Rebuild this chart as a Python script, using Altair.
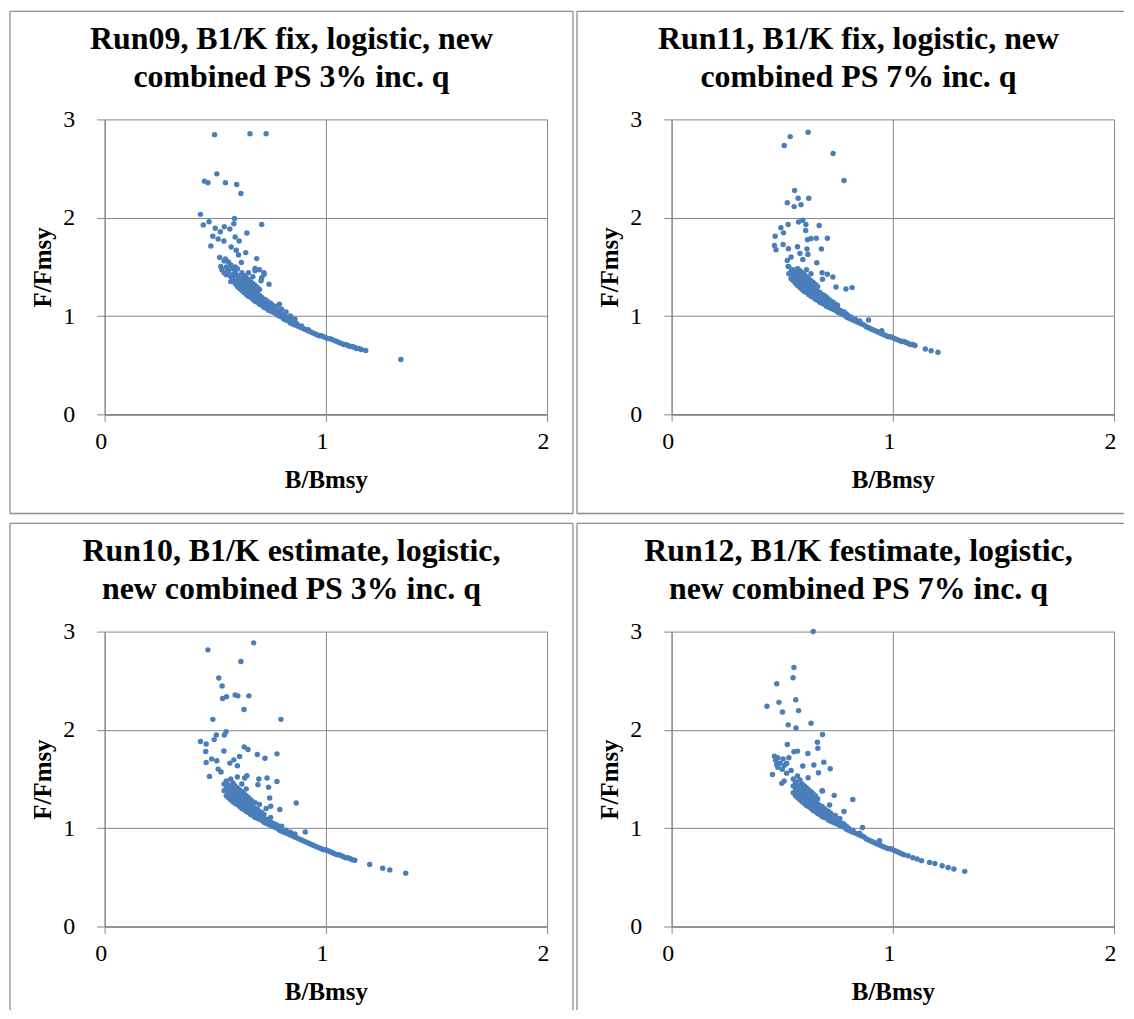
import altair as alt
import pandas as pd

FONT = "Liberation Serif"
BLUE = "#4a7ebb"
GRID = "#868686"
FRAME = "#8c8c8c"

X_TICKS = [0, 1, 2]
Y_TICKS = [0, 1, 2, 3]
X_TITLE = "B/Bmsy"
Y_TITLE = "F/Fmsy"

TITLES = {
    "run09": "Run09, B1/K fix, logistic, new\ncombined PS 3% inc. q",
    "run11": "Run11, B1/K fix, logistic, new\ncombined PS 7% inc. q",
    "run10": "Run10, B1/K estimate, logistic,\nnew combined PS 3% inc. q",
    "run12": "Run12, B1/K festimate, logistic,\nnew combined PS 7% inc. q",
}

# (B/Bmsy, F/Fmsy) pairs
run09_points = [
    (0.497, 2.845), (0.657, 2.855), (0.730, 2.855), (0.507, 2.446), (0.451, 2.372),
    (0.467, 2.355), (0.546, 2.355), (0.597, 2.338), (0.616, 2.247), (0.433, 2.034),
    (0.446, 1.926), (0.472, 1.959), (0.500, 1.892), (0.541, 1.909), (0.587, 1.993),
    (0.584, 1.939), (0.710, 1.932), (0.643, 1.845), (0.523, 1.858), (0.566, 1.885),
    (0.489, 1.811), (0.513, 1.784), (0.539, 1.764), (0.480, 1.713), (0.572, 1.703),
    (0.590, 1.804), (0.608, 1.764), (0.595, 1.669), (0.605, 1.622), (0.638, 1.645),
    (0.520, 1.595), (0.546, 1.581), (0.687, 1.584), (0.618, 1.544), (0.525, 1.503),
    (0.557, 1.476), (0.582, 1.493), (0.680, 1.483), (0.721, 1.426), (0.743, 1.324),
    (0.707, 1.358),
    (0.53, 1.47), (0.54, 1.44), (0.55, 1.42), (0.55, 1.50), (0.56, 1.55), (0.57, 1.52),
    (0.58, 1.48), (0.54, 1.56), (0.59, 1.50), (0.60, 1.48),
    (0.56, 1.45), (0.57, 1.40), (0.57, 1.35), (0.58, 1.42), (0.58, 1.38), (0.59, 1.33),
    (0.59, 1.44), (0.60, 1.30), (0.60, 1.36), (0.60, 1.41), (0.61, 1.28), (0.61, 1.34),
    (0.61, 1.39), (0.62, 1.26), (0.62, 1.31), (0.62, 1.37), (0.62, 1.44), (0.63, 1.24),
    (0.63, 1.29), (0.63, 1.35), (0.63, 1.41), (0.64, 1.22), (0.64, 1.27), (0.64, 1.33),
    (0.64, 1.39), (0.65, 1.20), (0.65, 1.25), (0.65, 1.31), (0.65, 1.37), (0.65, 1.44),
    (0.66, 1.19), (0.66, 1.23), (0.66, 1.29), (0.66, 1.35), (0.67, 1.17), (0.67, 1.22),
    (0.67, 1.27), (0.67, 1.33), (0.67, 1.40), (0.68, 1.15), (0.68, 1.20), (0.68, 1.25),
    (0.68, 1.31), (0.68, 1.46), (0.69, 1.14), (0.69, 1.18), (0.69, 1.23), (0.69, 1.29),
    (0.70, 1.12), (0.70, 1.16), (0.70, 1.21), (0.70, 1.27), (0.70, 1.47), (0.71, 1.11),
    (0.71, 1.15), (0.71, 1.19), (0.71, 1.39), (0.72, 1.09), (0.72, 1.13), (0.72, 1.17),
    (0.72, 1.44), (0.73, 1.08), (0.73, 1.12), (0.73, 1.16), (0.74, 1.06), (0.74, 1.10),
    (0.74, 1.14), (0.75, 1.05), (0.75, 1.09), (0.75, 1.13), (0.76, 1.04), (0.76, 1.07),
    (0.76, 1.11), (0.77, 1.03), (0.77, 1.06), (0.78, 1.01), (0.78, 1.05), (0.78, 1.10),
    (0.79, 1.00), (0.79, 1.03), (0.79, 1.12), (0.80, 0.99), (0.80, 1.02), (0.80, 1.07),
    (0.81, 0.97), (0.81, 1.00), (0.82, 0.96), (0.82, 0.99), (0.82, 1.04), (0.83, 0.95),
    (0.83, 0.97), (0.84, 0.93), (0.84, 0.96), (0.84, 1.00), (0.85, 0.92), (0.85, 0.95),
    (0.86, 0.91), (0.86, 0.94), (0.86, 0.97), (0.87, 0.90), (0.87, 0.92), (0.88, 0.89),
    (0.89, 0.88), (0.89, 0.90), (0.90, 0.87), (0.91, 0.86), (0.92, 0.85), (0.92, 0.86),
    (0.93, 0.84), (0.94, 0.83), (0.95, 0.82), (0.96, 0.81), (0.97, 0.80), (0.98, 0.80),
    (0.99, 0.79), (1.00, 0.78), (1.01, 0.77), (1.02, 0.77), (1.03, 0.76), (1.04, 0.75),
    (1.05, 0.74), (1.06, 0.73), (1.07, 0.72), (1.08, 0.71), (1.09, 0.71), (1.10, 0.70),
    (1.11, 0.69), (1.12, 0.69), (1.13, 0.68), (1.14, 0.67), (1.15, 0.67), (1.16, 0.66),
    (1.18, 0.65), (1.339, 0.557),
]

run11_points = [
    (0.617, 2.869), (0.536, 2.825), (0.509, 2.734), (0.730, 2.653), (0.779, 2.379),
    (0.556, 2.278), (0.523, 2.153), (0.572, 2.197), (0.620, 2.197), (0.554, 2.113),
    (0.585, 2.133), (0.574, 1.957), (0.593, 1.974), (0.527, 1.930), (0.607, 1.930),
    (0.667, 1.920), (0.494, 1.897), (0.506, 1.846), (0.606, 1.870), (0.468, 1.812),
    (0.465, 1.718), (0.472, 1.674), (0.504, 1.728), (0.528, 1.684), (0.569, 1.704),
    (0.614, 1.775), (0.630, 1.789), (0.654, 1.792), (0.704, 1.792), (0.677, 1.681),
    (0.580, 1.637), (0.612, 1.681), (0.616, 1.627), (0.593, 1.576), (0.540, 1.600),
    (0.523, 1.566), (0.527, 1.505), (0.656, 1.542), (0.729, 1.397), (0.704, 1.424),
    (0.680, 1.441), (0.743, 1.296), (0.788, 1.276), (0.816, 1.289), (0.682, 1.374),
    (0.53, 1.43), (0.53, 1.50), (0.54, 1.38), (0.54, 1.45), (0.55, 1.36), (0.55, 1.41),
    (0.55, 1.47), (0.56, 1.33), (0.56, 1.39), (0.56, 1.44), (0.57, 1.31), (0.57, 1.37),
    (0.57, 1.42), (0.57, 1.48), (0.58, 1.29), (0.58, 1.34), (0.58, 1.40), (0.58, 1.46),
    (0.59, 1.27), (0.59, 1.32), (0.59, 1.38), (0.59, 1.44), (0.60, 1.25), (0.60, 1.30),
    (0.60, 1.36), (0.60, 1.42), (0.61, 1.24), (0.61, 1.28), (0.61, 1.34), (0.61, 1.40),
    (0.61, 1.47), (0.62, 1.22), (0.62, 1.27), (0.62, 1.32), (0.62, 1.38), (0.63, 1.20),
    (0.63, 1.25), (0.63, 1.30), (0.63, 1.36), (0.63, 1.43), (0.64, 1.19), (0.64, 1.24),
    (0.64, 1.29), (0.64, 1.34), (0.65, 1.17), (0.65, 1.22), (0.65, 1.27), (0.65, 1.32),
    (0.66, 1.16), (0.66, 1.20), (0.66, 1.25), (0.66, 1.30), (0.67, 1.14), (0.67, 1.19),
    (0.67, 1.24), (0.68, 1.13), (0.68, 1.17), (0.68, 1.22), (0.69, 1.12), (0.69, 1.16),
    (0.69, 1.21), (0.70, 1.10), (0.70, 1.14), (0.70, 1.19), (0.71, 1.09), (0.71, 1.13),
    (0.71, 1.17), (0.72, 1.08), (0.72, 1.12), (0.72, 1.15), (0.73, 1.07), (0.73, 1.10),
    (0.73, 1.14), (0.74, 1.06), (0.74, 1.09), (0.74, 1.12), (0.75, 1.04), (0.75, 1.08),
    (0.75, 1.11), (0.76, 1.03), (0.76, 1.06), (0.77, 1.02), (0.77, 1.05), (0.78, 1.01),
    (0.78, 1.04), (0.79, 0.99), (0.79, 1.02), (0.80, 0.98), (0.80, 1.00), (0.81, 0.97),
    (0.81, 0.99), (0.82, 0.96), (0.83, 0.95), (0.83, 0.97), (0.84, 0.94), (0.85, 0.93),
    (0.85, 0.95), (0.86, 0.92), (0.87, 0.91), (0.88, 0.89), (0.89, 0.88), (0.89, 0.96),
    (0.90, 0.87), (0.91, 0.86), (0.92, 0.85), (0.93, 0.84), (0.94, 0.83), (0.95, 0.85),
    (0.95, 0.82), (0.96, 0.81), (0.97, 0.80), (0.98, 0.79), (0.99, 0.79), (1.00, 0.78),
    (1.01, 0.77), (1.02, 0.76), (1.03, 0.75), (1.04, 0.74), (1.05, 0.74), (1.06, 0.73),
    (1.07, 0.72), (1.08, 0.71), (1.09, 0.71), (1.10, 0.70), (1.147, 0.665),
    (1.173, 0.648), (1.204, 0.631),
]

run10_points = [
    (0.674, 2.885), (0.467, 2.814), (0.616, 2.696), (0.516, 2.528), (0.531, 2.447),
    (0.533, 2.319), (0.551, 2.336), (0.590, 2.356), (0.602, 2.346), (0.652, 2.346),
    (0.630, 2.208), (0.489, 2.107), (0.797, 2.107), (0.549, 1.982), (0.541, 1.948),
    (0.505, 1.948), (0.495, 1.901), (0.433, 1.881), (0.459, 1.857), (0.457, 1.780),
    (0.459, 1.668), (0.474, 1.527), (0.484, 1.705), (0.507, 1.685), (0.539, 1.786),
    (0.610, 1.729), (0.631, 1.827), (0.648, 1.800), (0.690, 1.749), (0.725, 1.712),
    (0.779, 1.756), (0.584, 1.695), (0.600, 1.635), (0.566, 1.662), (0.513, 1.601),
    (0.526, 1.571), (0.643, 1.534), (0.633, 1.510), (0.697, 1.500), (0.734, 1.510),
    (0.779, 1.476), (0.693, 1.443), (0.741, 1.416), (0.746, 1.308), (0.751, 1.223),
    (0.792, 1.190), (0.866, 1.257), (0.907, 0.961),
    (0.54, 1.38), (0.54, 1.45), (0.55, 1.33), (0.55, 1.41), (0.55, 1.48), (0.56, 1.31),
    (0.56, 1.37), (0.56, 1.44), (0.57, 1.29), (0.57, 1.35), (0.57, 1.42), (0.57, 1.50),
    (0.58, 1.27), (0.58, 1.33), (0.58, 1.39), (0.58, 1.46), (0.59, 1.25), (0.59, 1.31),
    (0.59, 1.37), (0.59, 1.43), (0.60, 1.24), (0.60, 1.29), (0.60, 1.35), (0.60, 1.41),
    (0.60, 1.52), (0.61, 1.22), (0.61, 1.27), (0.61, 1.33), (0.61, 1.39), (0.62, 1.20),
    (0.62, 1.25), (0.62, 1.31), (0.62, 1.37), (0.62, 1.45), (0.63, 1.19), (0.63, 1.24),
    (0.63, 1.29), (0.63, 1.35), (0.64, 1.17), (0.64, 1.22), (0.64, 1.27), (0.64, 1.33),
    (0.64, 1.40), (0.65, 1.16), (0.65, 1.20), (0.65, 1.25), (0.65, 1.31), (0.66, 1.14),
    (0.66, 1.19), (0.66, 1.24), (0.66, 1.29), (0.67, 1.13), (0.67, 1.17), (0.67, 1.22),
    (0.67, 1.27), (0.68, 1.11), (0.68, 1.16), (0.68, 1.20), (0.68, 1.26), (0.69, 1.10),
    (0.69, 1.14), (0.69, 1.19), (0.70, 1.09), (0.70, 1.13), (0.70, 1.17), (0.70, 1.24),
    (0.71, 1.08), (0.71, 1.12), (0.71, 1.16), (0.72, 1.06), (0.72, 1.10), (0.72, 1.14),
    (0.73, 1.05), (0.73, 1.09), (0.73, 1.20), (0.74, 1.04), (0.74, 1.08), (0.75, 1.03),
    (0.75, 1.06), (0.75, 1.11), (0.76, 1.02), (0.76, 1.05), (0.77, 1.01), (0.77, 1.04),
    (0.78, 1.00), (0.78, 1.03), (0.79, 0.98), (0.79, 1.01), (0.80, 0.97), (0.80, 1.02),
    (0.81, 0.96), (0.82, 0.95), (0.82, 0.98), (0.83, 0.94), (0.84, 0.93), (0.84, 0.96),
    (0.85, 0.92), (0.86, 0.91), (0.86, 0.94), (0.87, 0.90), (0.88, 0.89), (0.89, 0.88),
    (0.90, 0.87), (0.91, 0.86), (0.92, 0.85), (0.93, 0.84), (0.94, 0.83), (0.95, 0.82),
    (0.96, 0.81), (0.97, 0.80), (0.98, 0.79), (0.99, 0.78), (1.00, 0.78), (1.01, 0.77),
    (1.02, 0.76), (1.03, 0.75), (1.04, 0.74), (1.05, 0.73), (1.06, 0.73), (1.07, 0.72),
    (1.08, 0.71), (1.09, 0.70), (1.10, 0.70), (1.11, 0.69), (1.12, 0.68), (1.131, 0.674),
    (1.198, 0.630), (1.257, 0.593), (1.289, 0.576), (1.361, 0.543),
]

run12_points = [
    (0.640, 3.000), (0.553, 2.635), (0.549, 2.530), (0.475, 2.470), (0.561, 2.307),
    (0.485, 2.280), (0.431, 2.240), (0.501, 2.182), (0.574, 2.196), (0.630, 2.068),
    (0.527, 2.051), (0.562, 2.020), (0.682, 1.953), (0.659, 1.875), (0.661, 1.814),
    (0.523, 1.851), (0.553, 1.777), (0.569, 1.784), (0.616, 1.760), (0.465, 1.733),
    (0.480, 1.716), (0.504, 1.703), (0.530, 1.716), (0.475, 1.649), (0.520, 1.659),
    (0.688, 1.672), (0.643, 1.642), (0.593, 1.632), (0.540, 1.588), (0.717, 1.605),
    (0.456, 1.547), (0.569, 1.530), (0.664, 1.564), (0.498, 1.456), (0.509, 1.480),
    (0.617, 1.514), (0.607, 1.412), (0.682, 1.378), (0.735, 1.334), (0.819, 1.291),
    (0.779, 1.169), (0.714, 1.236), (0.863, 1.007), (0.940, 0.872),
    (0.47, 1.69), (0.48, 1.62), (0.49, 1.66), (0.50, 1.60), (0.51, 1.64), (0.52, 1.56),
    (0.55, 1.36), (0.55, 1.43), (0.55, 1.50), (0.56, 1.33), (0.56, 1.40), (0.56, 1.47),
    (0.57, 1.31), (0.57, 1.37), (0.57, 1.44), (0.58, 1.29), (0.58, 1.35), (0.58, 1.41),
    (0.58, 1.49), (0.59, 1.27), (0.59, 1.33), (0.59, 1.39), (0.59, 1.45), (0.60, 1.25),
    (0.60, 1.31), (0.60, 1.37), (0.60, 1.43), (0.61, 1.23), (0.61, 1.29), (0.61, 1.35),
    (0.61, 1.41), (0.62, 1.22), (0.62, 1.27), (0.62, 1.33), (0.62, 1.39), (0.63, 1.20),
    (0.63, 1.25), (0.63, 1.31), (0.63, 1.37), (0.64, 1.18), (0.64, 1.23), (0.64, 1.29),
    (0.64, 1.35), (0.65, 1.17), (0.65, 1.22), (0.65, 1.27), (0.65, 1.33), (0.66, 1.15),
    (0.66, 1.20), (0.66, 1.25), (0.66, 1.30), (0.67, 1.14), (0.67, 1.18), (0.67, 1.23),
    (0.68, 1.12), (0.68, 1.17), (0.68, 1.22), (0.68, 1.38), (0.69, 1.11), (0.69, 1.15),
    (0.69, 1.20), (0.70, 1.10), (0.70, 1.14), (0.70, 1.18), (0.71, 1.08), (0.71, 1.12),
    (0.71, 1.17), (0.72, 1.07), (0.72, 1.11), (0.72, 1.15), (0.73, 1.06), (0.73, 1.10),
    (0.74, 1.05), (0.74, 1.08), (0.74, 1.13), (0.75, 1.04), (0.75, 1.07), (0.76, 1.03),
    (0.76, 1.06), (0.76, 1.10), (0.77, 1.02), (0.77, 1.05), (0.78, 1.01), (0.78, 1.04),
    (0.79, 0.99), (0.79, 1.02), (0.80, 0.98), (0.80, 1.00), (0.81, 0.97), (0.82, 0.96),
    (0.82, 0.98), (0.83, 0.95), (0.84, 0.94), (0.85, 0.93), (0.85, 0.95), (0.86, 0.92),
    (0.87, 0.91), (0.88, 0.89), (0.89, 0.88), (0.90, 0.87), (0.91, 0.86), (0.92, 0.85),
    (0.93, 0.84), (0.94, 0.83), (0.95, 0.82), (0.96, 0.81), (0.97, 0.80), (0.98, 0.79),
    (0.99, 0.79), (1.00, 0.78), (1.01, 0.77), (1.02, 0.76), (1.03, 0.75), (1.04, 0.74),
    (1.05, 0.73), (1.069, 0.720), (1.09, 0.70), (1.110, 0.686), (1.13, 0.67),
    (1.166, 0.652), (1.19, 0.64), (1.223, 0.618), (1.25, 0.60), (1.276, 0.584),
    (1.325, 0.561),
]


def frame_rules(right_col, bottom_row):
    """Panel frame lines (decoration, in pixels relative to the plot area)."""
    one = pd.DataFrame({"k": [0]})
    left, top = -95, -108.5
    right = 454 if right_col else 470
    bottom = 380 if bottom_row else 395.5
    segs = [(left, right, top, top), (left, left, top, bottom)]
    if not bottom_row:
        segs.append((left, right, bottom, bottom))
    if not right_col:
        segs.append((right, right, top, bottom))
    layers = []
    for x1, x2, y1, y2 in segs:
        layers.append(
            alt.Chart(one).mark_rule(color=FRAME, strokeWidth=1.3).encode(
                x=alt.value(x1), x2=alt.value(x2), y=alt.value(y1), y2=alt.value(y2)
            )
        )
    return layers


def panel(points, title_text, right_col, bottom_row):
    df = pd.DataFrame(points, columns=["B", "F"])
    title_df = pd.DataFrame({"t": [title_text]})
    heading = alt.Chart(title_df).mark_text(
        font=FONT, fontSize=32, fontWeight="bold", color="black", align="center",
        baseline="alphabetic", lineBreak="\n", lineHeight=37.5,
    ).encode(x=alt.value(187.5), y=alt.value(-70.5), text="t:N")
    pts = alt.Chart(df).mark_circle(size=30, opacity=1, color=BLUE).encode(
        x=alt.X(
            "B:Q",
            scale=alt.Scale(domain=[0, 2], nice=False),
            axis=alt.Axis(
                values=X_TICKS, labelExpr="format(datum.value, 'd')",
                domainWidth=1.6, tickSize=7, labelPadding=8, labelOffset=-4,
                title=X_TITLE, titleX=222, titleY=73,
            ),
        ),
        y=alt.Y(
            "F:Q",
            scale=alt.Scale(domain=[0, 3], nice=False),
            axis=alt.Axis(
                values=Y_TICKS, labelExpr="format(datum.value, 'd')",
                domainWidth=1, tickSize=8, labelPadding=22,
                title=Y_TITLE, titleX=-54, titleY=148, titleAngle=270,
            ),
        ),
    )
    return alt.layer(*frame_rules(right_col, bottom_row), heading, pts).properties(
        width=444, height=296
    )


top = alt.hconcat(
    panel(run09_points, TITLES["run09"], False, False),
    panel(run11_points, TITLES["run11"], True, False),
    spacing=0,
)
bottom = alt.hconcat(
    panel(run10_points, TITLES["run10"], False, True),
    panel(run12_points, TITLES["run12"], True, True),
    spacing=0,
)
chart = (
    alt.vconcat(top, bottom, spacing=7)
    .properties(padding={"left": 0, "top": 0, "right": 0, "bottom": 0}, background="white")
    .configure_view(stroke="transparent")
    .configure_axis(
        grid=True, gridColor=GRID, gridWidth=1, domainColor=GRID, tickColor=GRID,
        labelFont=FONT, labelFontSize=24, labelColor="black", labelFlush=False,
        labelOverlap=False, titleFont=FONT, titleFontSize=25, titleFontWeight="bold",
        titleColor="black", titleBaseline="alphabetic", titleAlign="center",
    )
)

chart.save("out.html", embed_options={"renderer": "svg", "actions": False})
